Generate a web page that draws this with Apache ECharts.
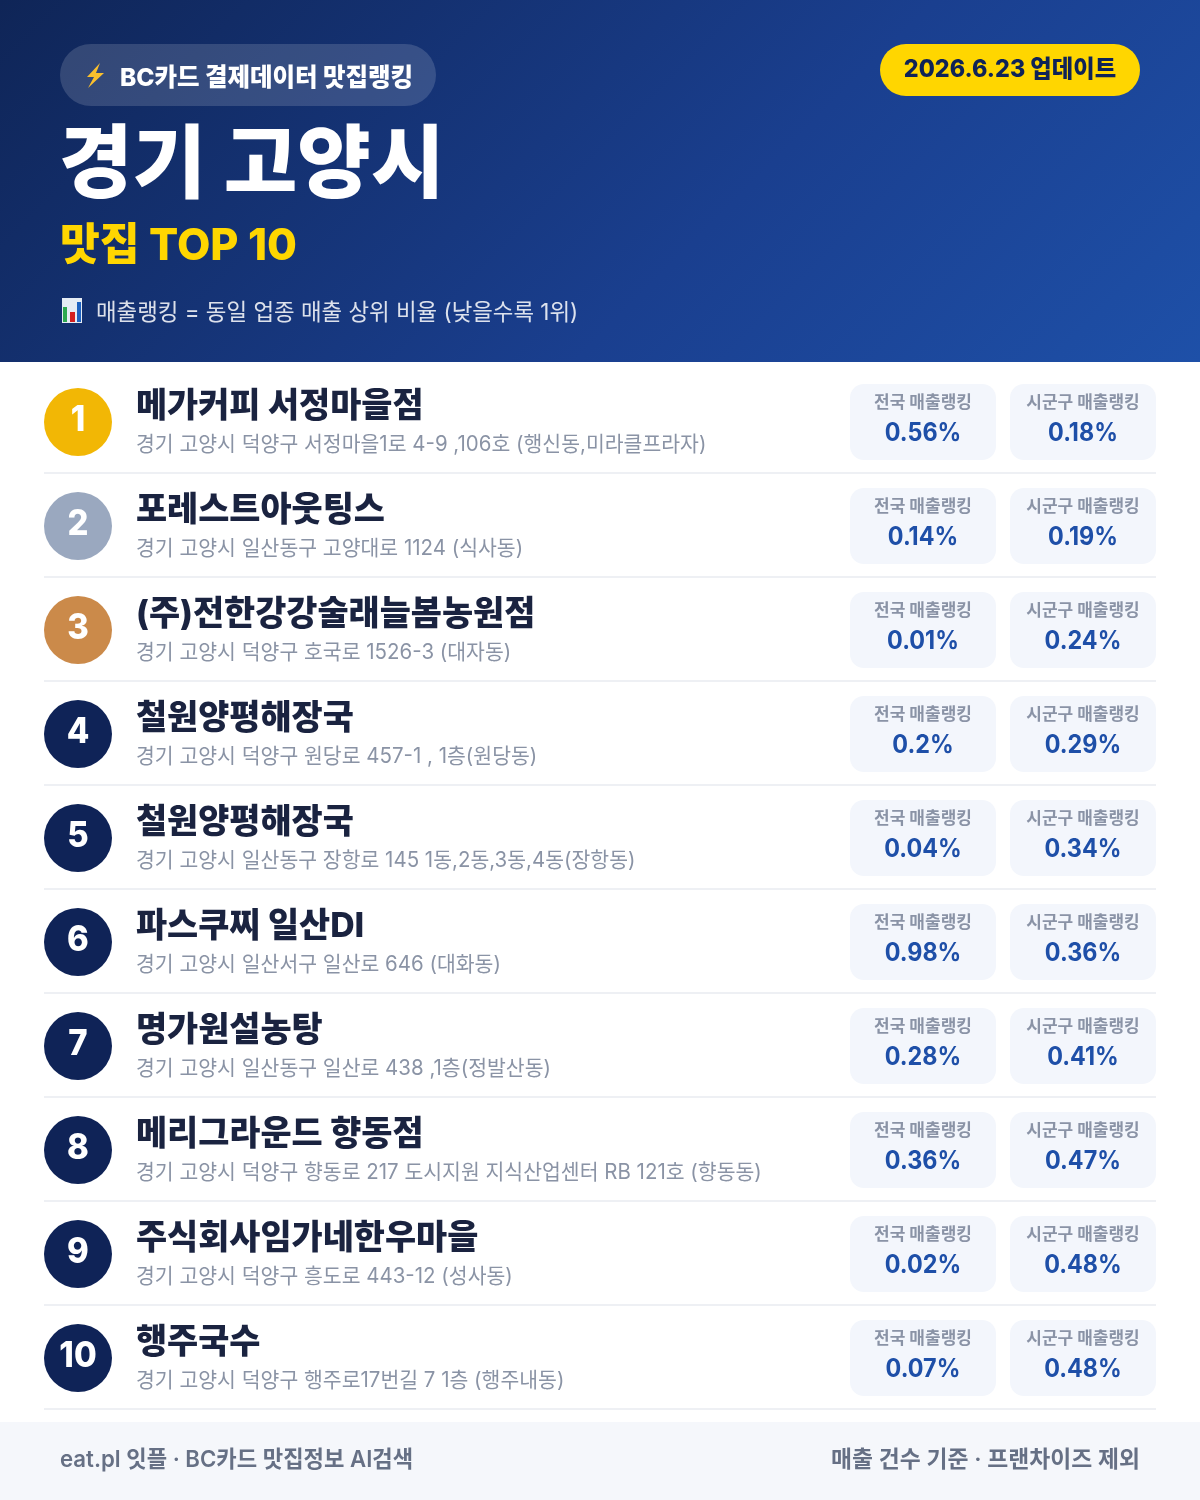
<!DOCTYPE html>
<html><head><meta charset="utf-8">
<style>html,body{margin:0;padding:0;background:#fff}#c{width:1200px;height:1500px}</style>
<script src="https://cdn.jsdelivr.net/npm/echarts@6/dist/echarts.min.js"></script>
</head><body><div id="c"></div>
<script>
const ranks=[1,2,3,4,5,6,7,8,9,10];
const names=['메가커피 서정마을점','포레스트아웃팅스','(주)전한강강술래늘봄농원점','철원양평해장국','철원양평해장국','파스쿠찌 일산DI','명가원설농탕','메리그라운드 향동점','주식회사임가네한우마을','행주국수'];
const addresses=['경기 고양시 덕양구 서정마을1로 4-9 ,106호 (행신동,미라클프라자)','경기 고양시 일산동구 고양대로 1124 (식사동)','경기 고양시 덕양구 호국로 1526-3 (대자동)','경기 고양시 덕양구 원당로 457-1 , 1층(원당동)','경기 고양시 일산동구 장항로 145 1동,2동,3동,4동(장항동)','경기 고양시 일산서구 일산로 646 (대화동)','경기 고양시 일산동구 일산로 438 ,1층(정발산동)','경기 고양시 덕양구 향동로 217 도시지원 지식산업센터 RB 121호 (향동동)','경기 고양시 덕양구 흥도로 443-12 (성사동)','경기 고양시 덕양구 행주로17번길 7 1층 (행주내동)'];
const nationalRank=[0.56,0.14,0.01,0.2,0.04,0.98,0.28,0.36,0.02,0.07];
const districtRank=[0.18,0.19,0.24,0.29,0.34,0.36,0.41,0.47,0.48,0.48];
const F='Inter,"Noto Sans CJK KR"';
const medal=['#F2B705','#9AA8BF','#CB8A4A'];
const navy='#0F2357';
function font(w,s){return w+' '+s+'px '+F;}
function T(x,y,text,fill,w,s,align,sx){return {type:'text',x:x,y:y,scaleX:sx||1,originX:0,style:{x:0,y:0,text:text,fill:fill,font:font(w,s),align:align||'left',verticalAlign:'middle'}};}
function card(x,cy,label,val){return [
 {type:'rect',shape:{x:x,y:cy-38,width:146,height:76,r:14},style:{fill:'#F3F6FC'}},
 T(x+73,cy-19,label,'#8A93A6',700,17,'center',1),
 T(x+73,cy+11,val+'%','#1E4FA8',700,25,'center',0.935)];}
function renderItem(p,api){
 const i=api.value(1), cy=api.coord([0,i])[1];
 return {type:'group',children:[
  {type:'circle',shape:{cx:78,cy:cy,r:34},style:{fill:i<3?medal[i]:navy}},
  T(78,cy-2,String(ranks[i]),'#fff',800,35,'center',0.94),
  T(136,cy-15,names[i],'#1A2340',800,34,'left',0.995),
  T(136,cy+23,addresses[i],'#8A93A5',400,21,'left',0.975),
  ...card(850,cy,'전국 매출랭킹',nationalRank[i]),
  ...card(1010,cy,'시군구 매출랭킹',districtRank[i]),
  {type:'rect',shape:{x:44,y:cy+50,width:1112,height:2},style:{fill:'#EEF0F4'}}
 ]};
}
const chart=echarts.init(document.getElementById('c'),null,{renderer:'canvas',width:1200,height:1500});
const H=(o)=>Object.assign({silent:true},o);
chart.setOption({
 animation:false,backgroundColor:'#fff',
 grid:{left:0,top:370,width:1200,height:1040},
 xAxis:{type:'value',min:0,max:1200,show:false},
 yAxis:{type:'category',inverse:true,show:false,data:names},
 graphic:[
  H({type:'rect',shape:{x:0,y:0,width:1200,height:362},style:{fill:new echarts.graphic.LinearGradient(209.5,-209.5,990.5,571.5,[{offset:0,color:'#0F2557'},{offset:0.6,color:'#1A3F8F'},{offset:1,color:'#1E50A8'}],true)}}),
  H({type:'rect',shape:{x:60,y:44,width:376,height:62,r:31},style:{fill:'rgba(255,255,255,0.15)'}}),
  H({type:'polygon',shape:{points:[[100,63],[87,77],[94,77],[88,88],[104,73],[96,73]]},style:{fill:'#FBC02D'}}),
  H(T(120,78,'BC카드 결제데이터 맛집랭킹','#fff',800,25,'left',0.98)),
  H({type:'rect',shape:{x:880,y:44,width:260,height:52,r:26},style:{fill:'#FFD600'}}),
  H(T(1010,70,'2026.6.23 업데이트','#0F2357',800,24,'center',0.972)),
  H(T(59,167,'경기 고양시','#fff',800,80,'left')),
  H(T(60,247,'맛집 TOP 10','#FFD600',800,44,'left',0.983)),
  H({type:'rect',shape:{x:62,y:298,width:20,height:25},style:{fill:'#E6ECF4'}}),
  H({type:'rect',shape:{x:63,y:307,width:4,height:15},style:{fill:'#2EA84F'}}),
  H({type:'rect',shape:{x:70,y:312,width:5,height:10},style:{fill:'#D32020'}}),
  H({type:'rect',shape:{x:77,y:302,width:4,height:20},style:{fill:'#1E62C0'}}),
  H(T(96,313,'매출랭킹 = 동일 업종 매출 상위 비율 (낮을수록 1위)','rgba(255,255,255,0.85)',400,23,'left',0.974)),
  H({type:'rect',shape:{x:0,y:1422,width:1200,height:78},style:{fill:'#F5F7FB'}}),
  H(T(60,1460,'eat.pl 잇플 · BC카드 맛집정보 AI검색','#667085',600,23,'left',0.965)),
  H({type:'text',x:1140,y:1460,scaleX:0.992,originX:0,style:{x:0,y:0,text:'매출 건수 기준 · 프랜차이즈 제외',fill:'#667085',font:font(600,23),align:'right',verticalAlign:'middle'}})
 ],
 series:[{type:'custom',coordinateSystem:'cartesian2d',renderItem:renderItem,clip:false,silent:true,
  data:ranks.map((r,i)=>[nationalRank[i],i,districtRank[i]]),encode:{x:0,y:1}}]
});
</script></body></html>
